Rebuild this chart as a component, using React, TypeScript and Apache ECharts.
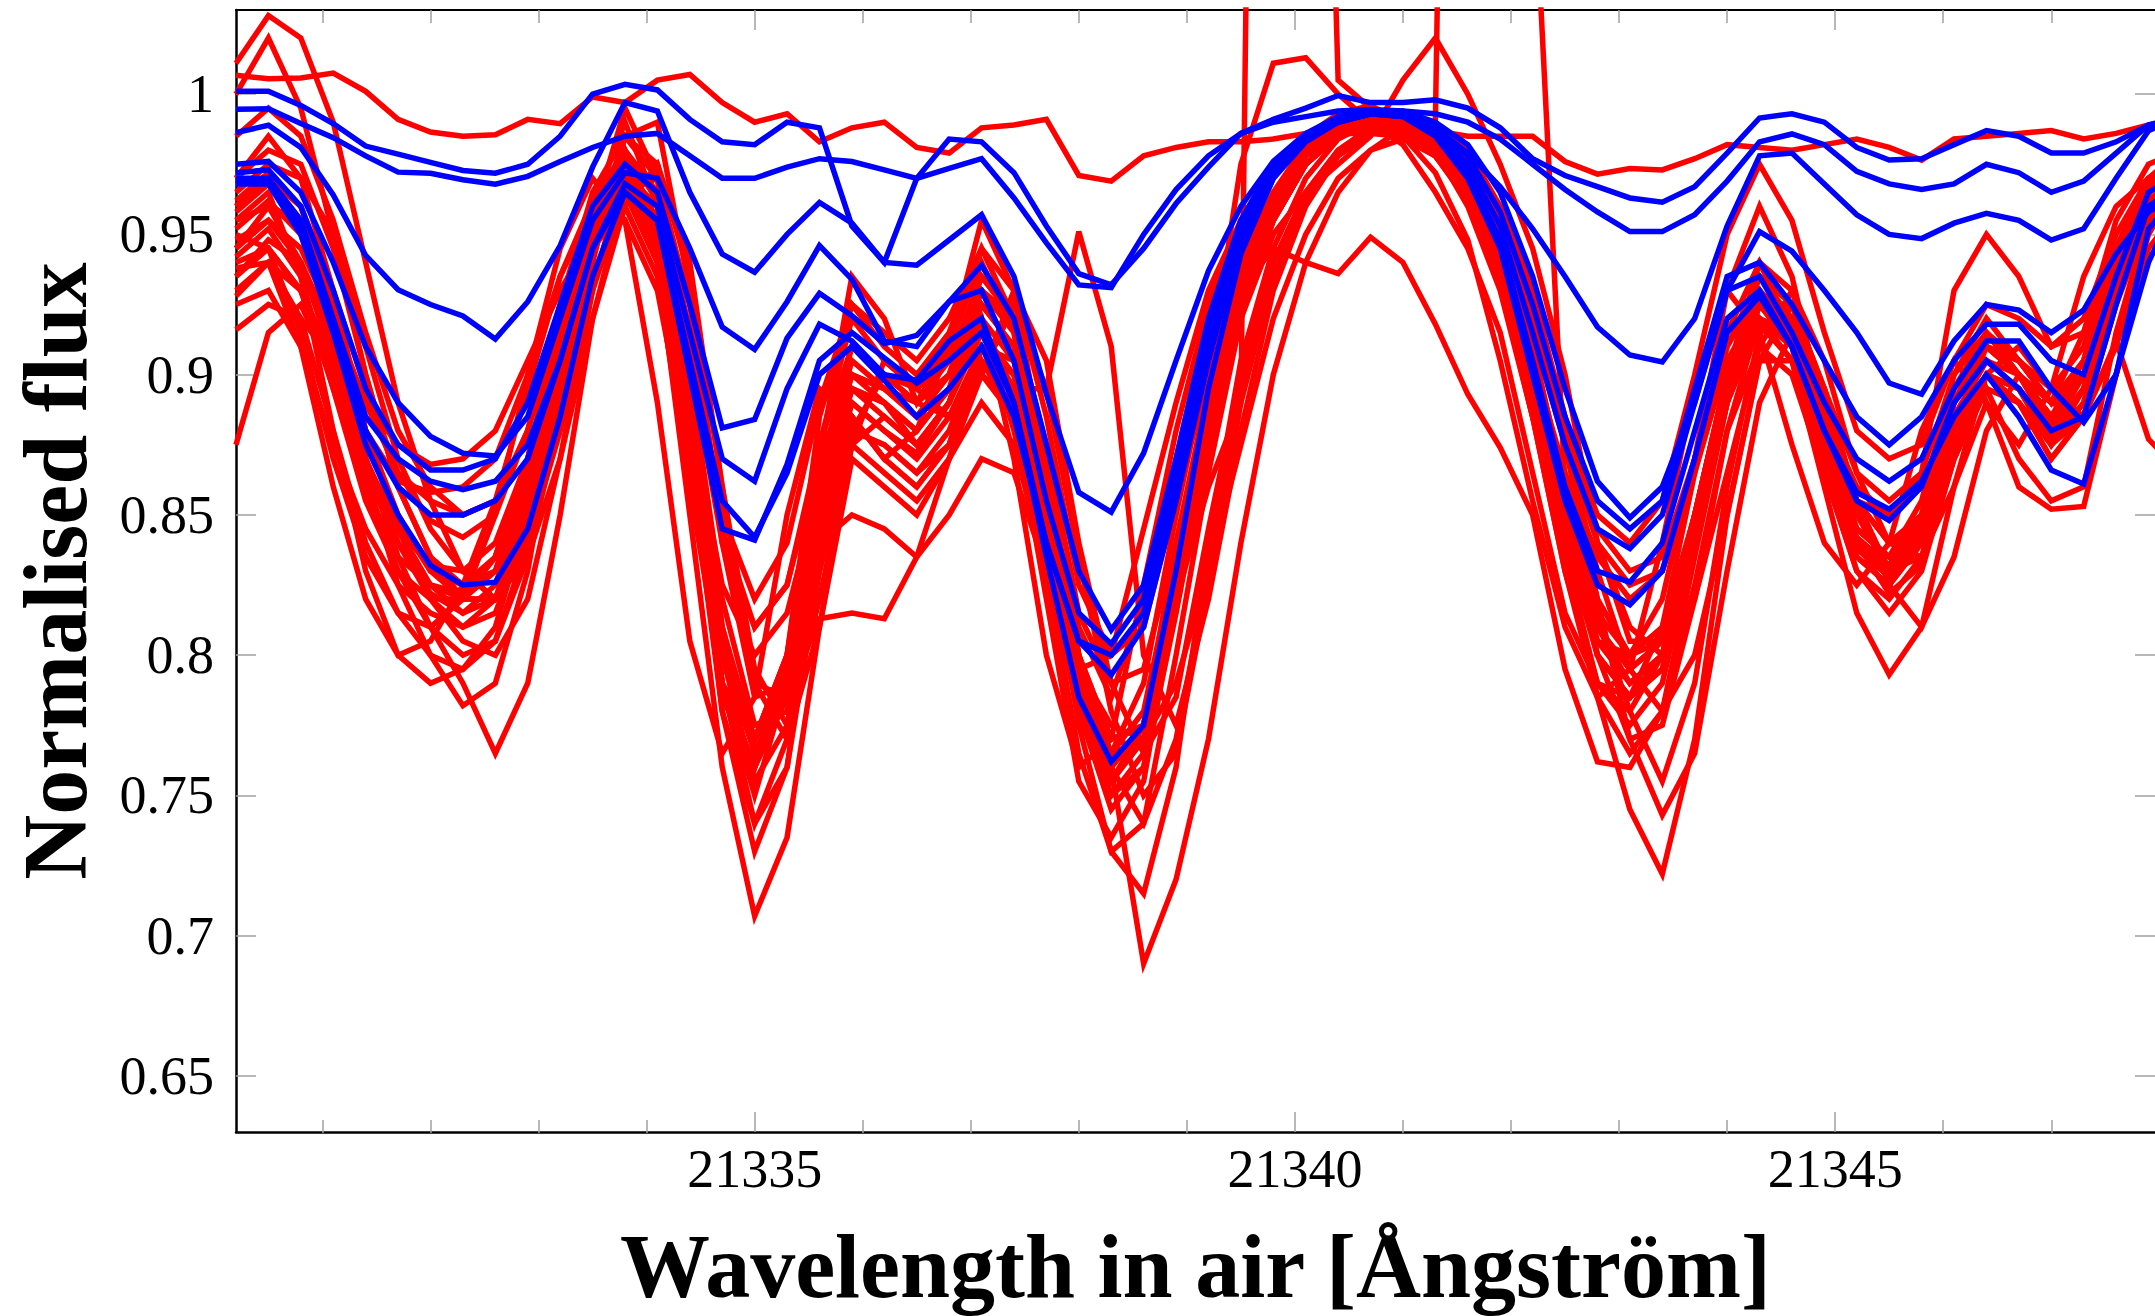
import React, { useEffect, useRef } from "react";
import * as echarts from "echarts";

// Wavelength grid (Å, air)
const WAVELENGTH = [
  21330.2, 21330.5, 21330.8, 21331.1, 21331.4, 21331.7, 21332.0, 21332.3, 21332.6, 21332.9,
  21333.2, 21333.5, 21333.8, 21334.1, 21334.4, 21334.7, 21335.0, 21335.3, 21335.6, 21335.9,
  21336.2, 21336.5, 21336.8, 21337.1, 21337.4, 21337.7, 21338.0, 21338.3, 21338.6, 21338.9,
  21339.2, 21339.5, 21339.8, 21340.1, 21340.4, 21340.7, 21341.0, 21341.3, 21341.6, 21341.9,
  21342.2, 21342.5, 21342.8, 21343.1, 21343.4, 21343.7, 21344.0, 21344.3, 21344.6, 21344.9,
  21345.2, 21345.5, 21345.8, 21346.1, 21346.4, 21346.7, 21347.0, 21347.3, 21347.6, 21347.9, 21348.2,
];

const X_TICK_LABELS = [21335, 21340, 21345];
const X_MINOR_TICKS = [21331, 21332, 21333, 21334, 21336, 21337, 21338, 21339, 21341, 21342, 21343, 21344, 21346, 21347];
const Y_TICK_LABELS = [0.65, 0.7, 0.75, 0.8, 0.85, 0.9, 0.95, 1];

// ---------------- red spectra ----------------
const RED_FLAT = [
  1.0067, 1.0055, 1.0058, 1.0075, 1.001, 0.991, 0.9865, 0.985, 0.9855, 0.991,
  0.9895, 0.999, 0.997, 1.005, 1.007, 0.997, 0.99, 0.993, 0.983, 0.988,
  0.99, 0.981, 0.979, 0.988, 0.989, 0.991, 0.971, 0.969, 0.978, 0.981,
  0.983, 0.983, 0.984, 0.986, 0.986, 0.987, 0.988, 0.987, 0.985, 0.985,
  0.985, 0.976, 0.9715, 0.9735, 0.973, 0.977, 0.982, 0.981, 0.98, 0.982,
  0.984, 0.981, 0.9765, 0.984, 0.985, 0.986, 0.987, 0.984, 0.986, 0.989, 0.99,
];
const RED_01 = [
  1.011, 1.028, 1.02, 0.99, 0.94, 0.89, 0.855, 0.83, 0.82, 0.835,
  0.885, 0.94, 0.985, 0.975, 0.9, 0.81, 0.765, 0.79, 0.865, 0.91,
  0.9, 0.89, 0.905, 0.935, 0.92, 0.86, 0.79, 0.76, 0.775, 0.835,
  0.89, 0.935, 0.96, 0.98, 0.99, 0.995, 0.992, 0.985, 0.97, 0.945,
  0.9, 0.85, 0.81, 0.79, 0.8, 0.845, 0.9, 0.935, 0.92, 0.875,
  0.84, 0.83, 0.845, 0.89, 0.915, 0.9, 0.885, 0.905, 0.945, 0.97, 0.98,
];
const RED_02 = [
  1.0, 1.02, 0.995, 0.95, 0.9, 0.86, 0.835, 0.825, 0.83, 0.865,
  0.915, 0.96, 0.99, 0.96, 0.88, 0.8, 0.77, 0.8, 0.875, 0.92,
  0.905, 0.895, 0.91, 0.94, 0.915, 0.85, 0.785, 0.765, 0.79, 0.85,
  0.905, 0.945, 0.97, 0.985, 0.993, 0.996, 0.99, 0.98, 0.96, 0.93,
  0.885, 0.84, 0.805, 0.8, 0.82, 0.87, 0.93, 0.96, 0.935, 0.885,
  0.84, 0.835, 0.855, 0.9, 0.92, 0.905, 0.89, 0.915, 0.955, 0.975, 0.98,
];
const RED_03 = [
  0.97, 0.985, 0.97, 0.93, 0.88, 0.845, 0.82, 0.805, 0.8, 0.82,
  0.87, 0.93, 0.975, 0.975, 0.935, 0.86, 0.795, 0.775, 0.82, 0.875,
  0.885, 0.875, 0.89, 0.925, 0.91, 0.855, 0.795, 0.765, 0.77, 0.825,
  0.88, 0.925, 0.955, 0.975, 0.985, 0.99, 0.99, 0.985, 0.975, 0.95,
  0.91, 0.86, 0.82, 0.8, 0.805, 0.84, 0.89, 0.925, 0.925, 0.89,
  0.855, 0.84, 0.845, 0.88, 0.91, 0.905, 0.89, 0.9, 0.94, 0.965, 0.975,
];
const RED_04 = [
  0.96, 0.97, 0.955, 0.915, 0.87, 0.835, 0.81, 0.79, 0.765, 0.79,
  0.85, 0.92, 0.965, 0.955, 0.88, 0.79, 0.74, 0.77, 0.84, 0.885,
  0.87, 0.86, 0.875, 0.91, 0.9, 0.86, 0.8, 0.76, 0.74, 0.77,
  0.83, 0.895, 0.94, 0.965, 0.98, 0.988, 0.99, 0.985, 0.975, 0.955,
  0.92, 0.875, 0.83, 0.795, 0.78, 0.8, 0.85, 0.905, 0.925, 0.895,
  0.855, 0.83, 0.835, 0.87, 0.9, 0.895, 0.875, 0.885, 0.925, 0.96, 0.97,
];
const RED_05 = [
  0.955, 0.965, 0.935, 0.88, 0.83, 0.8, 0.79, 0.795, 0.81, 0.85,
  0.905, 0.955, 0.98, 0.95, 0.87, 0.785, 0.76, 0.8, 0.885, 0.925,
  0.91, 0.9, 0.915, 0.945, 0.92, 0.855, 0.785, 0.755, 0.775, 0.84,
  0.895, 0.94, 0.965, 0.982, 0.99, 0.99, 0.982, 0.965, 0.945, 0.915,
  0.865, 0.815, 0.79, 0.785, 0.81, 0.865, 0.915, 0.94, 0.915, 0.87,
  0.845, 0.835, 0.85, 0.895, 0.915, 0.9, 0.88, 0.9, 0.945, 0.97, 0.978,
];
const RED_06 = [
  0.948, 0.955, 0.945, 0.92, 0.89, 0.865, 0.855, 0.85, 0.855, 0.88,
  0.92, 0.955, 0.97, 0.955, 0.905, 0.84, 0.81, 0.825, 0.87, 0.9,
  0.895, 0.89, 0.9, 0.92, 0.88, 0.83, 0.795, 0.8, 0.845, 0.89,
  0.93, 0.955, 0.972, 0.982, 0.987, 0.988, 0.987, 0.982, 0.97, 0.95,
  0.915, 0.875, 0.84, 0.825, 0.83, 0.865, 0.905, 0.925, 0.915, 0.885,
  0.86, 0.85, 0.86, 0.89, 0.91, 0.905, 0.895, 0.91, 0.945, 0.965, 0.972,
];
const RED_07 = [
  0.94, 0.945, 0.93, 0.905, 0.88, 0.862, 0.858, 0.86, 0.87, 0.9,
  0.935, 0.96, 0.965, 0.94, 0.885, 0.825, 0.8, 0.815, 0.86, 0.895,
  0.89, 0.88, 0.895, 0.915, 0.9, 0.86, 0.81, 0.785, 0.82, 0.87,
  0.92, 0.955, 0.972, 0.982, 0.986, 0.986, 0.985, 0.978, 0.965, 0.94,
  0.905, 0.865, 0.835, 0.82, 0.83, 0.87, 0.91, 0.93, 0.915, 0.88,
  0.855, 0.85, 0.865, 0.9, 0.915, 0.905, 0.89, 0.905, 0.94, 0.962, 0.97,
];
const RED_08 = [
  0.93, 0.94, 0.92, 0.88, 0.84, 0.815, 0.8, 0.795, 0.805, 0.84,
  0.9, 0.95, 0.97, 0.94, 0.85, 0.76, 0.707, 0.735, 0.81, 0.87,
  0.86, 0.85, 0.87, 0.905, 0.885, 0.82, 0.755, 0.735, 0.755, 0.82,
  0.88, 0.93, 0.958, 0.978, 0.988, 0.992, 0.99, 0.982, 0.965, 0.935,
  0.885, 0.83, 0.785, 0.765, 0.78, 0.835, 0.89, 0.925, 0.91, 0.865,
  0.83, 0.815, 0.83, 0.87, 0.895, 0.87, 0.855, 0.86, 0.915, 0.955, 0.968,
];
const RED_09 = [
  0.945, 0.955, 0.94, 0.91, 0.87, 0.84, 0.82, 0.81, 0.815, 0.845,
  0.895, 0.945, 0.972, 0.96, 0.9, 0.82, 0.775, 0.78, 0.835, 0.88,
  0.875, 0.865, 0.88, 0.91, 0.905, 0.86, 0.8, 0.76, 0.69, 0.72,
  0.77, 0.84, 0.9, 0.94, 0.965, 0.98, 0.988, 0.986, 0.975, 0.955,
  0.91, 0.86, 0.815, 0.78, 0.755, 0.79, 0.86, 0.915, 0.92, 0.885,
  0.85, 0.83, 0.84, 0.875, 0.9, 0.895, 0.88, 0.895, 0.935, 0.962, 0.972,
];
const RED_10 = [
  0.925, 0.93, 0.91, 0.875, 0.845, 0.825, 0.815, 0.81, 0.82, 0.855,
  0.91, 0.955, 0.975, 0.95, 0.87, 0.78, 0.74, 0.76, 0.83, 0.875,
  0.865, 0.855, 0.87, 0.9, 0.885, 0.83, 0.765, 0.73, 0.74, 0.8,
  0.865, 0.92, 0.955, 0.975, 0.985, 0.99, 0.99, 0.983, 0.968, 0.94,
  0.895, 0.84, 0.785, 0.745, 0.722, 0.77, 0.85, 0.905, 0.905, 0.86,
  0.815, 0.793, 0.81, 0.86, 0.89, 0.86, 0.852, 0.853, 0.9, 0.945, 0.96,
];
const RED_11 = [
  0.916, 0.925, 0.92, 0.905, 0.89, 0.875, 0.868, 0.87, 0.88, 0.905,
  0.93, 0.95, 0.955, 0.93, 0.87, 0.8, 0.77, 0.79, 0.845, 0.88,
  0.875, 0.865, 0.875, 0.9, 0.89, 0.845, 0.795, 0.775, 0.77, 0.79,
  0.83, 0.875, 0.92, 0.95, 0.97, 0.98, 0.984, 0.978, 0.962, 0.935,
  0.895, 0.85, 0.815, 0.8, 0.81, 0.85, 0.895, 0.92, 0.91, 0.875,
  0.845, 0.835, 0.845, 0.88, 0.9, 0.895, 0.88, 0.895, 0.935, 0.96, 0.97,
];
const RED_12 = [
  0.875, 0.915, 0.925, 0.9, 0.865, 0.84, 0.825, 0.82, 0.83, 0.86,
  0.905, 0.945, 0.96, 0.935, 0.86, 0.79, 0.77, 0.8, 0.84, 0.85,
  0.845, 0.835, 0.85, 0.87, 0.865, 0.83, 0.78, 0.75, 0.765, 0.825,
  0.88, 0.925, 0.955, 0.975, 0.985, 0.988, 0.986, 0.978, 0.962, 0.935,
  0.89, 0.84, 0.8, 0.785, 0.795, 0.84, 0.89, 0.92, 0.905, 0.865,
  0.835, 0.825, 0.84, 0.88, 0.9, 0.89, 0.875, 0.89, 0.93, 0.958, 0.968,
];
const RED_13 = [
  0.965, 0.975, 0.97, 0.95, 0.91, 0.87, 0.845, 0.83, 0.82, 0.835,
  0.87, 0.92, 0.96, 0.975, 0.94, 0.86, 0.79, 0.77, 0.81, 0.875,
  0.905, 0.895, 0.885, 0.9, 0.93, 0.905, 0.84, 0.79, 0.765, 0.785,
  0.845, 0.9, 0.94, 0.965, 0.98, 0.988, 0.99, 0.988, 0.98, 0.96,
  0.93, 0.885, 0.84, 0.81, 0.8, 0.82, 0.865, 0.91, 0.93, 0.905,
  0.865, 0.84, 0.835, 0.86, 0.9, 0.91, 0.895, 0.885, 0.91, 0.95, 0.97,
];
const RED_14 = [
  0.95, 0.945, 0.915, 0.87, 0.835, 0.815, 0.81, 0.82, 0.85, 0.9,
  0.945, 0.97, 0.955, 0.89, 0.805, 0.765, 0.785, 0.85, 0.895, 0.885,
  0.87, 0.88, 0.91, 0.92, 0.87, 0.8, 0.76, 0.77, 0.825, 0.88,
  0.925, 0.955, 0.975, 0.985, 0.99, 0.99, 0.985, 0.972, 0.948, 0.905,
  0.855, 0.81, 0.785, 0.795, 0.84, 0.895, 0.93, 0.915, 0.875, 0.84,
  0.825, 0.84, 0.88, 0.905, 0.89, 0.875, 0.895, 0.935, 0.96, 0.97, 0.975,
];
const RED_15 = [
  0.938, 0.94, 0.91, 0.86, 0.82, 0.8, 0.805, 0.825, 0.855, 0.895,
  0.935, 0.962, 0.975, 0.945, 0.885, 0.8, 0.755, 0.775, 0.845, 0.89,
  0.88, 0.872, 0.89, 0.925, 0.91, 0.85, 0.78, 0.745, 0.76, 0.82,
  0.878, 0.928, 0.958, 0.978, 0.988, 0.992, 0.99, 0.982, 0.968, 0.94,
  0.89, 0.835, 0.79, 0.775, 0.79, 0.84, 0.895, 0.925, 0.91, 0.87,
  0.835, 0.825, 0.84, 0.885, 0.905, 0.895, 0.875, 0.895, 0.935, 0.962, 0.972,
];
const RED_16 = [
  0.96, 0.97, 0.96, 0.93, 0.895, 0.865, 0.848, 0.842, 0.85, 0.88,
  0.925, 0.962, 0.98, 0.962, 0.91, 0.85, 0.82, 0.84, 0.89, 0.925,
  0.915, 0.905, 0.92, 0.945, 0.93, 0.885, 0.825, 0.8, 0.81, 0.855,
  0.9, 0.94, 0.963, 0.978, 0.986, 0.99, 0.99, 0.985, 0.974, 0.952,
  0.92, 0.88, 0.845, 0.83, 0.835, 0.87, 0.91, 0.935, 0.925, 0.895,
  0.865, 0.855, 0.865, 0.93, 0.95, 0.935, 0.91, 0.915, 0.945, 0.97, 0.978,
];
const RED_17 = [
  0.942, 0.952, 0.935, 0.895, 0.855, 0.83, 0.82, 0.82, 0.835, 0.87,
  0.92, 0.96, 0.975, 0.945, 0.87, 0.79, 0.76, 0.79, 0.86, 0.9,
  0.89, 0.875, 0.89, 0.915, 0.895, 0.895, 0.951, 0.91, 0.8, 0.775,
  0.82, 0.88, 0.93, 0.96, 0.978, 0.986, 0.988, 0.984, 0.97, 0.945,
  0.9, 0.85, 0.81, 0.795, 0.805, 0.85, 0.9, 0.928, 0.915, 0.875,
  0.84, 0.83, 0.845, 0.885, 0.905, 0.9, 0.885, 0.9, 0.94, 0.965, 0.974,
];
const RED_18 = [
  0.935, 0.945, 0.93, 0.895, 0.86, 0.835, 0.825, 0.822, 0.835, 0.87,
  0.915, 0.955, 0.97, 0.945, 0.875, 0.8, 0.77, 0.795, 0.855, 0.89,
  0.88, 0.87, 0.885, 0.91, 0.895, 0.84, 0.78, 0.755, 0.77, 0.83,
  0.89, 0.93, 0.945, 0.94, 0.936, 0.949, 0.94, 0.918, 0.893, 0.874,
  0.85, 0.795, 0.762, 0.76, 0.78, 0.825, 0.88, 0.91, 0.9, 0.865,
  0.83, 0.82, 0.835, 0.875, 0.9, 0.89, 0.875, 0.89, 0.93, 0.958, 0.97,
];
const RED_19 = [
  0.955, 0.96, 0.94, 0.905, 0.87, 0.845, 0.832, 0.83, 0.84, 0.87,
  0.91, 0.95, 0.965, 0.94, 0.87, 0.79, 0.76, 0.785, 0.813, 0.815,
  0.813, 0.835, 0.87, 0.89, 0.875, 0.83, 0.78, 0.76, 0.775, 0.83,
  0.885, 0.93, 0.957, 0.975, 0.985, 0.99, 0.988, 0.98, 0.965, 0.938,
  0.89, 0.84, 0.8, 0.785, 0.795, 0.84, 0.89, 0.918, 0.905, 0.87,
  0.838, 0.828, 0.842, 0.88, 0.9, 0.89, 0.87, 0.885, 0.925, 0.955, 0.965,
];
const RED_20 = [
  0.935, 0.948, 0.94, 0.915, 0.88, 0.85, 0.83, 0.82, 0.82, 0.84,
  0.88, 0.93, 0.965, 0.97, 0.925, 0.845, 0.79, 0.785, 0.83, 0.88,
  0.9, 0.89, 0.885, 0.9, 0.925, 0.895, 0.835, 0.78, 0.75, 0.765,
  0.825, 0.89, 0.935, 0.963, 0.978, 0.986, 0.99, 0.988, 0.978, 0.958,
  0.925, 0.875, 0.82, 0.77, 0.743, 0.765, 0.83, 0.89, 0.915, 0.895,
  0.855, 0.825, 0.81, 0.835, 0.88, 0.9, 0.89, 0.885, 0.912, 0.877, 0.865,
];
const RED_21 = [
  0.928, 0.94, 0.93, 0.9, 0.86, 0.83, 0.81, 0.8, 0.805, 0.835,
  0.89, 0.945, 0.97, 0.95, 0.875, 0.79, 0.75, 0.79, 0.87, 0.935,
  0.92, 0.89, 0.91, 0.955, 0.93, 0.865, 0.79, 0.75, 0.76, 0.815,
  0.875, 0.925, 0.955, 0.975, 0.986, 0.99, 0.988, 0.98, 0.963, 0.932,
  0.885, 0.83, 0.79, 0.78, 0.8, 0.85, 0.9, 0.928, 0.915, 0.875,
  0.84, 0.832, 0.848, 0.89, 0.91, 0.9, 0.88, 0.9, 0.94, 0.966, 0.975,
];
const RED_22 = [
  0.97, 0.98, 0.975, 0.945, 0.9, 0.86, 0.835, 0.82, 0.82, 0.845,
  0.895, 0.95, 0.985, 0.99, 0.93, 0.84, 0.785, 0.79, 0.85, 0.895,
  0.89, 0.88, 0.895, 0.93, 0.92, 0.87, 0.8, 0.77, 0.775, 0.83,
  0.9, 0.975, 1.011, 1.013, 1.0, 0.99, 0.985, 0.978, 0.965, 0.94,
  0.9, 0.85, 0.81, 0.795, 0.805, 0.85, 0.9, 0.93, 0.918, 0.88,
  0.845, 0.835, 0.85, 0.89, 0.91, 0.9, 0.885, 0.9, 0.94, 0.965, 0.975,
];
const RED_23 = [
  0.945, 0.96, 0.955, 0.925, 0.88, 0.845, 0.825, 0.815, 0.82, 0.85,
  0.9, 0.95, 0.98, 0.965, 0.895, 0.81, 0.77, 0.79, 0.86, 0.9,
  0.895, 0.885, 0.9, 0.935, 0.92, 0.865, 0.8, 0.77, 0.775, 0.82,
  0.87, 0.92, 0.95, 0.965, 0.975, 0.985, 1.005, 1.02, 1.0, 0.975,
  0.945, 0.9, 0.84, 0.805, 0.805, 0.84, 0.9, 0.94, 0.93, 0.89,
  0.855, 0.84, 0.85, 0.89, 0.91, 0.905, 0.89, 0.905, 0.945, 0.968, 0.976,
];
const RED_24 = [
  0.958, 0.968, 0.955, 0.915, 0.865, 0.825, 0.8, 0.782, 0.79, 0.83,
  0.895, 0.955, 0.995, 0.97, 0.88, 0.78, 0.73, 0.76, 0.84, 0.885,
  0.87, 0.86, 0.875, 0.91, 0.9, 0.845, 0.775, 0.73, 0.715, 0.76,
  0.84, 0.905, 0.945, 0.97, 0.984, 0.99, 0.99, 0.984, 0.97, 0.945,
  0.905, 0.85, 0.8, 0.77, 0.775, 0.82, 0.88, 0.92, 0.915, 0.875,
  0.84, 0.822, 0.832, 0.87, 0.895, 0.89, 0.87, 0.885, 0.93, 0.958, 0.97,
];
const RED_25 = [
  0.985, 0.995, 0.985, 0.955, 0.915, 0.88, 0.86, 0.85, 0.855, 0.88,
  0.925, 0.965, 0.985, 0.97, 0.915, 0.845, 0.81, 0.825, 0.875, 0.91,
  0.9, 0.895, 0.905, 0.93, 0.92, 0.875, 0.815, 0.79, 0.795, 0.84,
  0.89, 0.935, 0.962, 0.978, 0.987, 0.99, 0.99, 0.986, 0.976, 0.955,
  0.92, 0.88, 0.85, 0.84, 0.855, 0.9, 0.95, 0.975, 0.955, 0.915,
  0.88, 0.87, 0.875, 0.905, 0.925, 0.92, 0.91, 0.92, 0.95, 0.97, 0.978,
];
// spectra with bad pixels (spikes off the top of the plot)
const RED_SPIKE_1 = [
  0.952, 0.962, 0.95, 0.915, 0.87, 0.84, 0.822, 0.815, 0.825, 0.86,
  0.91, 0.955, 0.975, 0.95, 0.88, 0.8, 0.765, 0.79, 0.855, 0.895,
  0.885, 0.875, 0.89, 0.92, 0.905, 0.85, 0.785, 0.755, 0.77, 0.82,
  0.86, 0.89, 1.8, 1.4, 1.005, 0.995, 0.99, 0.982, 0.968, 0.94,
  0.895, 0.845, 0.805, 0.79, 0.8, 0.845, 0.895, 0.925, 0.912, 0.872,
  0.838, 0.828, 0.842, 0.885, 0.905, 0.895, 0.878, 0.895, 0.935, 0.962, 0.972,
];
const RED_SPIKE_2 = [
  0.962, 0.972, 0.96, 0.925, 0.88, 0.848, 0.83, 0.825, 0.835, 0.87,
  0.92, 0.96, 0.978, 0.955, 0.885, 0.805, 0.77, 0.8, 0.865, 0.905,
  0.895, 0.885, 0.9, 0.93, 0.915, 0.86, 0.795, 0.765, 0.78, 0.835,
  0.89, 0.935, 0.962, 0.978, 0.986, 0.988, 0.985, 0.99, 1.7, 1.6,
  1.09, 0.86, 0.8, 0.785, 0.8, 0.85, 0.9, 0.93, 0.915, 0.875,
  0.842, 0.832, 0.848, 0.89, 0.91, 0.9, 0.882, 0.9, 0.94, 0.965, 0.974,
];

// ---------------- blue spectra ----------------
const BLUE_TOP_1 = [
  1.001, 1.001, 0.996, 0.9895, 0.9815, 0.9786, 0.9757, 0.9728, 0.9718, 0.975,
  0.985, 1.0, 1.0035, 1.0015, 0.991, 0.983, 0.982, 0.99, 0.988, 0.953,
  0.94, 0.97, 0.984, 0.983, 0.972, 0.953, 0.936, 0.932, 0.945, 0.961,
  0.974, 0.986, 0.991, 0.995, 0.9995, 0.997, 0.997, 0.998, 0.995, 0.988,
  0.977, 0.971, 0.967, 0.963, 0.9615, 0.967, 0.979, 0.9915, 0.993, 0.99,
  0.981, 0.9765, 0.977, 0.982, 0.987, 0.985, 0.979, 0.979, 0.983, 0.989, 0.992,
];
const BLUE_TOP_2 = [
  0.9946, 0.9948, 0.9895, 0.9845, 0.978, 0.9722, 0.9718, 0.9695, 0.9679, 0.9707,
  0.976, 0.981, 0.985, 0.986, 0.978, 0.97, 0.97, 0.974, 0.977, 0.976,
  0.973, 0.97, 0.9735, 0.977, 0.963, 0.947, 0.932, 0.931, 0.95, 0.966,
  0.978, 0.986, 0.99, 0.992, 0.994, 0.9945, 0.994, 0.993, 0.99, 0.984,
  0.975, 0.966, 0.958, 0.951, 0.951, 0.957, 0.969, 0.983, 0.9858, 0.982,
  0.9725, 0.968, 0.966, 0.968, 0.975, 0.972, 0.965, 0.969, 0.979, 0.989, 0.992,
];
const BLUE_MID = [
  0.9863, 0.9889, 0.981, 0.9641, 0.9425, 0.9303, 0.925, 0.9209, 0.9127, 0.926,
  0.946, 0.974, 0.997, 0.994, 0.965, 0.943, 0.9365, 0.95, 0.9614, 0.954,
  0.94, 0.939, 0.948, 0.957, 0.935, 0.893, 0.858, 0.851, 0.872, 0.905,
  0.937, 0.96, 0.976, 0.986, 0.992, 0.9935, 0.9925, 0.988, 0.979, 0.967,
  0.952, 0.935, 0.917, 0.907, 0.9045, 0.92, 0.953, 0.978, 0.979, 0.968,
  0.957, 0.95, 0.9485, 0.954, 0.9575, 0.955, 0.948, 0.952, 0.97, 0.987, 0.992,
];
const BLUE_DEEP_1 = [
  0.975, 0.976, 0.965, 0.94, 0.91, 0.89, 0.878, 0.872, 0.871, 0.885,
  0.92, 0.955, 0.972, 0.97, 0.945, 0.917, 0.909, 0.926, 0.946, 0.934,
  0.912, 0.91, 0.926, 0.939, 0.92, 0.875, 0.83, 0.809, 0.825, 0.87,
  0.92, 0.955, 0.975, 0.985, 0.99, 0.993, 0.994, 0.99, 0.982, 0.965,
  0.935, 0.895, 0.862, 0.849, 0.86, 0.89, 0.93, 0.951, 0.944, 0.93,
  0.915, 0.897, 0.893, 0.912, 0.925, 0.923, 0.915, 0.923, 0.943, 0.958, 0.965,
];
const BLUE_DEEP_2 = [
  0.972, 0.973, 0.96, 0.93, 0.895, 0.875, 0.866, 0.866, 0.87, 0.89,
  0.925, 0.96, 0.975, 0.965, 0.925, 0.881, 0.884, 0.913, 0.929, 0.921,
  0.911, 0.914, 0.926, 0.93, 0.905, 0.855, 0.815, 0.804, 0.82, 0.865,
  0.915, 0.952, 0.973, 0.985, 0.99, 0.993, 0.993, 0.988, 0.978, 0.958,
  0.925, 0.885, 0.855, 0.845, 0.855, 0.895, 0.935, 0.94, 0.925, 0.905,
  0.885, 0.875, 0.885, 0.905, 0.918, 0.918, 0.905, 0.9, 0.935, 0.965, 0.972,
];
const BLUE_DEEP_3 = [
  0.968, 0.97, 0.955, 0.92, 0.885, 0.87, 0.862, 0.859, 0.862, 0.875,
  0.905, 0.945, 0.968, 0.96, 0.915, 0.87, 0.862, 0.895, 0.918, 0.912,
  0.9, 0.898, 0.912, 0.92, 0.89, 0.84, 0.805, 0.8, 0.815, 0.86,
  0.912, 0.95, 0.972, 0.984, 0.99, 0.993, 0.992, 0.987, 0.975, 0.953,
  0.915, 0.875, 0.845, 0.838, 0.85, 0.89, 0.93, 0.935, 0.915, 0.89,
  0.87, 0.862, 0.87, 0.895, 0.912, 0.912, 0.895, 0.883, 0.9, 0.94, 0.965,
];
const BLUE_DEEP_4 = [
  0.97, 0.97, 0.952, 0.915, 0.875, 0.85, 0.832, 0.825, 0.826, 0.845,
  0.885, 0.935, 0.965, 0.955, 0.9, 0.845, 0.841, 0.868, 0.905, 0.915,
  0.906, 0.897, 0.905, 0.915, 0.89, 0.835, 0.785, 0.762, 0.775, 0.83,
  0.895, 0.943, 0.97, 0.983, 0.99, 0.993, 0.992, 0.986, 0.972, 0.948,
  0.905, 0.86, 0.83, 0.826, 0.84, 0.88, 0.92, 0.93, 0.91, 0.88,
  0.855, 0.848, 0.86, 0.89, 0.905, 0.895, 0.88, 0.885, 0.925, 0.96, 0.968,
];
const BLUE_DEEP_5 = [
  0.968, 0.968, 0.95, 0.915, 0.88, 0.86, 0.85, 0.85, 0.855, 0.87,
  0.905, 0.945, 0.965, 0.955, 0.905, 0.855, 0.842, 0.865, 0.9, 0.91,
  0.898, 0.885, 0.895, 0.91, 0.885, 0.84, 0.805, 0.793, 0.81, 0.855,
  0.905, 0.948, 0.972, 0.985, 0.99, 0.993, 0.992, 0.985, 0.97, 0.945,
  0.9, 0.855, 0.825, 0.818, 0.83, 0.87, 0.915, 0.928, 0.91, 0.88,
  0.858, 0.852, 0.862, 0.885, 0.9, 0.885, 0.866, 0.861, 0.9, 0.952, 0.965,
];

const RED_SPECTRA = [
  RED_01, RED_02, RED_03, RED_04, RED_05, RED_06, RED_07, RED_08, RED_09, RED_10,
  RED_11, RED_12, RED_13, RED_14, RED_15, RED_16, RED_17, RED_18, RED_19, RED_20,
  RED_21, RED_22, RED_23, RED_24, RED_25, RED_SPIKE_1, RED_SPIKE_2, RED_FLAT,
];
const BLUE_SPECTRA = [
  BLUE_DEEP_1, BLUE_DEEP_2, BLUE_DEEP_3, BLUE_DEEP_4, BLUE_DEEP_5, BLUE_MID, BLUE_TOP_2, BLUE_TOP_1,
];

const FONT = "'Liberation Serif', 'Times New Roman', serif";
const TICK_COLOR = "#a0a0a0";
const X_MIN = 21330.2;
const X_MAX = 21347.96;
const Y_MIN = 0.63;
const Y_MAX = 1.03;

function toSeries(values: number[], color: string, idx: number) {
  const data: number[][] = [];
  WAVELENGTH.forEach((x, k) => {
    if (values[k] !== undefined) data.push([x, values[k]]);
  });
  return {
    type: "line",
    name: color + idx,
    data,
    xAxisIndex: 0,
    yAxisIndex: 0,
    showSymbol: false,
    symbol: "none",
    silent: true,
    clip: true,
    lineStyle: { color, width: 5.5, join: "miter", miterLimit: 4 },
    emphasis: { disabled: true },
    z: color === "#0000ff" ? 3 : 2,
  };
}

export default function App() {
  const ref = useRef<HTMLDivElement>(null);
  useEffect(() => {
    if (!ref.current) return;
    const chart = echarts.init(ref.current, undefined, { renderer: "svg" });
    const tickStyle = { color: TICK_COLOR, width: 1.5 };
    const option: any = {
      animation: false,
      backgroundColor: "#ffffff",
      grid: [
        { left: 236, right: 0, top: 10, bottom: 183 },
        { left: 236, right: 0, top: 10, bottom: 183 },
      ],
      xAxis: [
        {
          gridIndex: 0, type: "value", position: "bottom", min: X_MIN, max: X_MAX,
          axisLine: { show: true, onZero: false, lineStyle: { color: "#000", width: 2.5 } },
          axisTick: { show: true, inside: true, length: 20, customValues: X_TICK_LABELS, lineStyle: tickStyle },
          axisLabel: {
            show: true, customValues: X_TICK_LABELS, margin: 10, fontSize: 54, fontFamily: FONT, color: "#000",
            formatter: (v: number) => String(Math.round(Number(v))),
          },
          splitLine: { show: false },
          name: "Wavelength in air [Ångström]",
          nameLocation: "middle",
          nameGap: 89,
          nameTextStyle: { fontSize: 90, fontWeight: "bold", fontFamily: FONT, color: "#000" },
        },
        {
          gridIndex: 0, type: "value", position: "top", min: X_MIN, max: X_MAX,
          axisLine: { show: true, onZero: false, lineStyle: { color: "#000", width: 2 } },
          axisTick: { show: true, inside: true, length: 20, customValues: X_TICK_LABELS, lineStyle: tickStyle },
          axisLabel: { show: false },
          splitLine: { show: false },
        },
        {
          gridIndex: 1, type: "value", position: "bottom", min: X_MIN, max: X_MAX,
          axisLine: { show: false, onZero: false },
          axisTick: { show: true, inside: true, length: 13, customValues: X_MINOR_TICKS, lineStyle: tickStyle },
          axisLabel: { show: false },
          splitLine: { show: false },
        },
        {
          gridIndex: 1, type: "value", position: "top", min: X_MIN, max: X_MAX,
          axisLine: { show: false, onZero: false },
          axisTick: { show: true, inside: true, length: 13, customValues: X_MINOR_TICKS, lineStyle: tickStyle },
          axisLabel: { show: false },
          splitLine: { show: false },
        },
      ],
      yAxis: [
        {
          gridIndex: 0, type: "value", position: "left", min: Y_MIN, max: Y_MAX,
          axisLine: { show: true, onZero: false, lineStyle: { color: "#000", width: 2.5 } },
          axisTick: { show: true, inside: true, length: 20, customValues: Y_TICK_LABELS, lineStyle: tickStyle },
          axisLabel: {
            show: true, customValues: Y_TICK_LABELS, margin: 22, fontSize: 54, fontFamily: FONT, color: "#000",
            formatter: (v: number) => String(parseFloat(Number(v).toFixed(2))),
          },
          splitLine: { show: false },
          name: "Normalised flux",
          nameLocation: "middle",
          nameRotate: 90,
          nameGap: 136,
          nameTextStyle: { fontSize: 90, fontWeight: "bold", fontFamily: FONT, color: "#000" },
        },
        {
          gridIndex: 0, type: "value", position: "right", min: Y_MIN, max: Y_MAX,
          axisLine: { show: false, onZero: false },
          axisTick: { show: true, inside: true, length: 20, customValues: Y_TICK_LABELS, lineStyle: tickStyle },
          axisLabel: { show: false },
          splitLine: { show: false },
        },
        {
          gridIndex: 1, type: "value", position: "left", min: Y_MIN, max: Y_MAX, show: false,
        },
      ],
      series: [
        ...RED_SPECTRA.map((s, i) => toSeries(s, "#ff0000", i)),
        ...BLUE_SPECTRA.map((s, i) => toSeries(s, "#0000ff", i)),
      ],
    };
    chart.setOption(option);
    return () => chart.dispose();
  }, []);
  return (
    <div
      ref={ref}
      style={{ position: "fixed", left: 0, top: 0, width: 2155, height: 1316, background: "#fff" }}
    />
  );
}
